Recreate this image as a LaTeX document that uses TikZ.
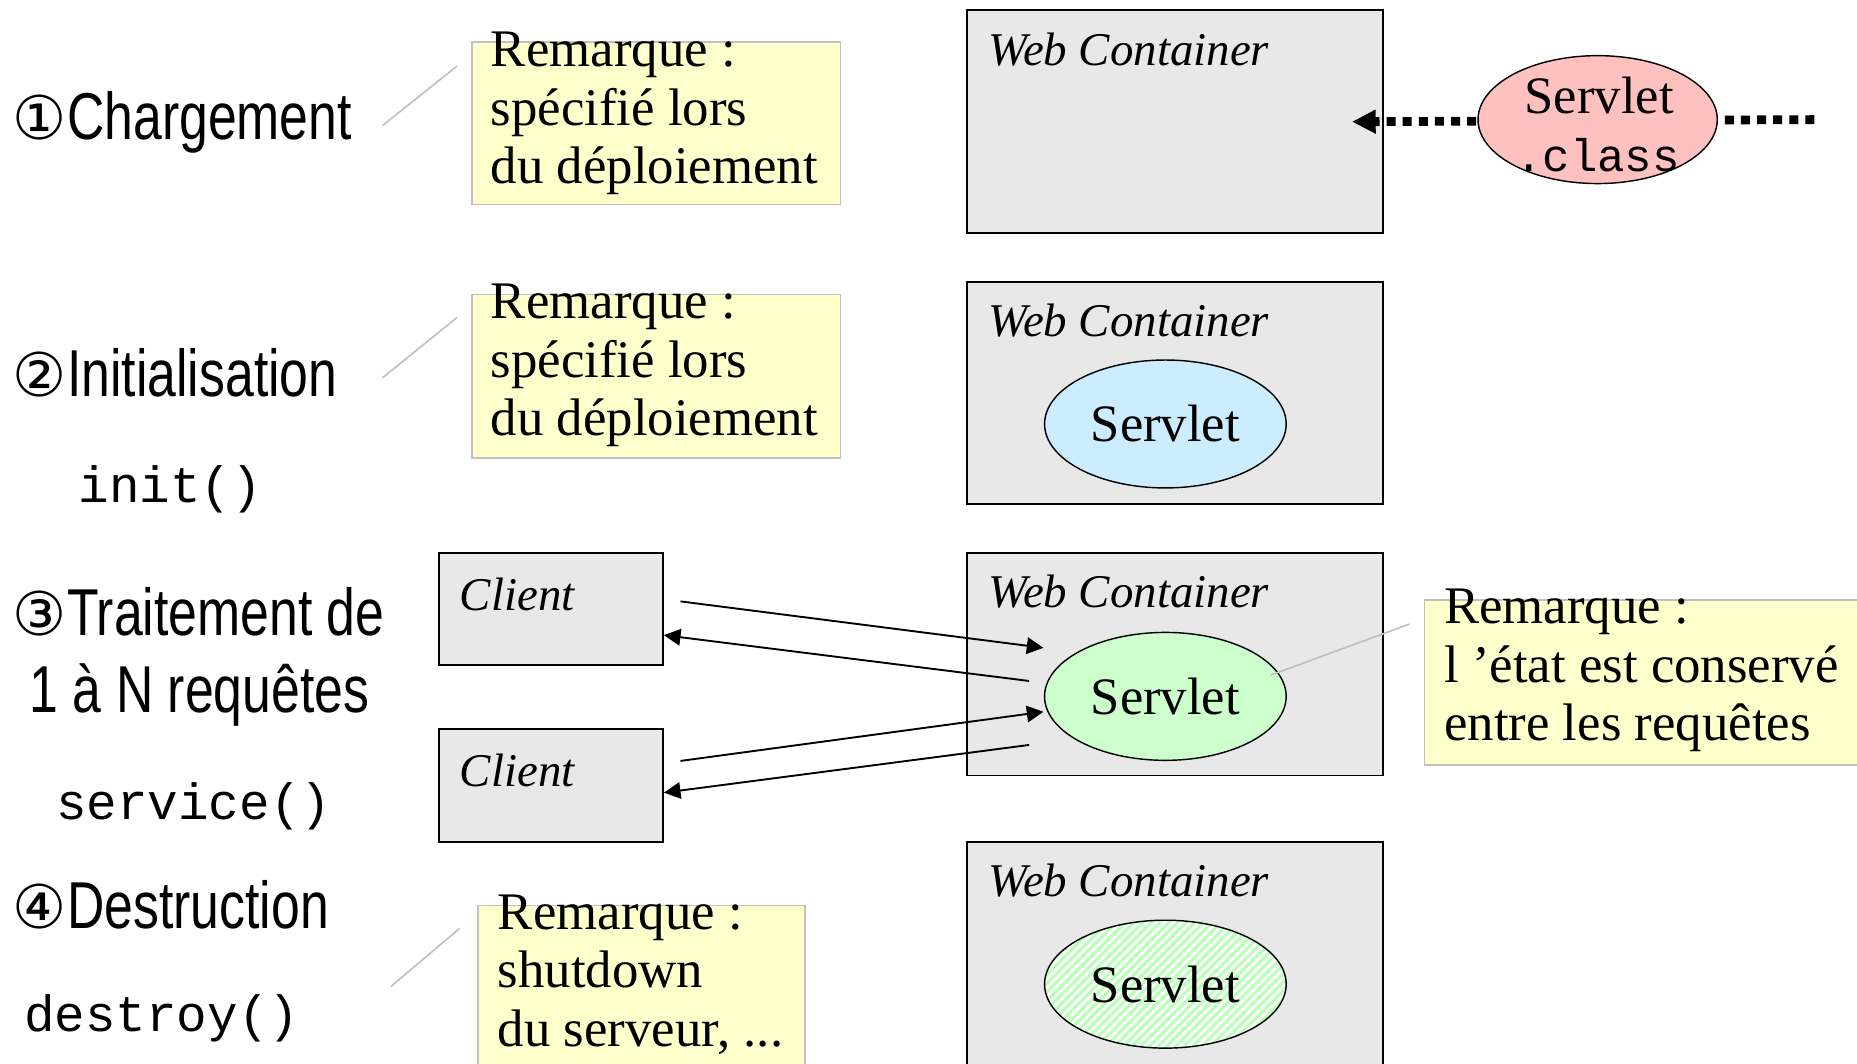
\documentclass[tikz,border=0pt]{standalone}
\usepackage{fontspec}
\setmainfont{Liberation Serif}
\setmonofont{Liberation Mono}
\newfontfamily\narrowsans[FakeStretch=0.78]{Liberation Sans}
\newfontfamily\circfont{DejaVu Sans}
\usetikzlibrary{shapes.geometric,arrows.meta,patterns.meta}
\definecolor{boxgrey}{RGB}{232,232,232}
\definecolor{notefill}{RGB}{255,255,204}
\definecolor{noteline}{RGB}{192,192,192}
\definecolor{loadpink}{RGB}{255,192,192}
\definecolor{initblue}{RGB}{204,236,255}
\definecolor{rungreen}{RGB}{204,255,204}
\newcommand{\stepmark}[1]{\hspace{-1pt}{\circfont\fontsize{25.5pt}{25.5pt}\selectfont#1}\hspace{0.3pt}}
\begin{document}
\begin{tikzpicture}[x=0.5pt,y=-0.5pt]
    \tikzstyle{every node}+=[inner sep=0pt]
    \tikzstyle{phase}=[anchor=base west,font=\narrowsans\fontsize{28pt}{32pt}\selectfont]
    \tikzstyle{method}=[anchor=base west,font=\ttfamily\fontsize{21.5pt}{24pt}\selectfont]
    \tikzstyle{remark}=[draw=noteline,line width=0.7pt,fill=notefill,anchor=north west]
    \tikzstyle{remtext}=[anchor=north west,align=left,font=\fontsize{22.3pt}{24.75pt}\selectfont]
    \tikzstyle{container}=[draw,line width=0.8pt,fill=boxgrey,anchor=north west,minimum width=175.5pt,minimum height=94pt]
    \tikzstyle{boxtitle}=[anchor=base west,font=\itshape\fontsize{19.8pt}{22pt}\selectfont]
    \tikzstyle{client}=[draw,line width=0.8pt,fill=boxgrey,anchor=north west,minimum width=94.5pt,minimum height=47.5pt]
    \tikzstyle{servlet}=[ellipse,draw,line width=0.6pt,minimum width=102pt,minimum height=54pt,font=\fontsize{22.2pt}{24pt}\selectfont]
    \tikzstyle{callout}=[draw=noteline,line width=0.7pt]
    \tikzstyle{request}=[-{Triangle[length=7pt,width=7pt]},line width=0.8pt]
    \useasboundingbox (0,0) rectangle (1568,898);
    \clip (0,0) rectangle (1568,898);

    \node[phase] (load) at (12,118) {\stepmark{①}Chargement};
    \node[phase] (init) at (12,335) {\stepmark{②}Initialisation};
    \node[phase] (serve) at (12,537) {\stepmark{③}Traitement de};
    \node[phase,anchor=base] (serveb) at ([yshift=-32.5pt]serve.base) {1 à N requêtes};
    \node[phase] (stop) at (12,784) {\stepmark{④}Destruction};
    \node[method] (initm) at (66,424) {init()};
    \node[method] (servem) at (47,692) {service()};
    \node[method] (stopm) at (20,871) {destroy()};

    \node[remark,minimum width=155.5pt,minimum height=68.5pt] (note1) at (398,35) {};
    \node[remark,minimum width=155.5pt,minimum height=69pt] (note2) at (398,248) {};
    \node[remark,minimum width=199pt,minimum height=69.5pt] (note3) at (1202,506) {};
    \node[remark,minimum width=138pt,minimum height=73pt] (note4) at (403,764) {};
    \node[remtext] (rem1) at (414,26.7) {Remarque :\\spécifié lors\\du déploiement};
    \node[remtext] (rem2) at (414,239.5) {Remarque :\\spécifié lors\\du déploiement};
    \node[remtext] (rem3) at (1219,497) {Remarque :\\l ’état est conservé\\entre les requêtes};
    \node[remtext] (rem4) at (420,755) {Remarque :\\shutdown\\du serveur, ...};

    \node[container] (wc1) at (816,8) {};
    \node[container] (wc2) at (816,237) {};
    \node[container] (wc3) at (816,466) {};
    \node[container,minimum height=100pt] (wc4) at (816,710) {};
    \node[boxtitle] (wct1) at (834,55) {Web Container};
    \node[boxtitle] (wct2) at (834,284) {Web Container};
    \node[boxtitle] (wct3) at (834,513) {Web Container};
    \node[boxtitle] (wct4) at (834,757) {Web Container};

    \node[client] (cl1) at (370,466) {};
    \node[client] (cl2) at (370,615) {};
    \node[boxtitle] (clt1) at (388,515.5) {Client};
    \node[boxtitle] (clt2) at (388,664) {Client};

    \coordinate (feed) at (1532,101);
    \draw[line width=3.7pt,dash pattern=on 3.8pt off 3pt,-{Triangle[length=10pt,width=9.5pt]}] (feed) -- ([xshift=-13.5pt]wc1.east);
    \node[servlet,fill=loadpink,minimum width=101pt] (cls) at (1349,101) {};
    \node[anchor=base west,font=\fontsize{22.2pt}{24pt}\selectfont] (clsname) at (1287,95.5) {Servlet};
    \node[anchor=base west,font=\ttfamily\fontsize{19.3pt}{20pt}\selectfont] (clsext) at (1279,145) {.class};

    \node[servlet,fill=initblue] (sv2) at (984,358) {Servlet};
    \node[servlet,fill=rungreen] (sv3) at (984,588) {Servlet};
    \node[servlet,preaction={fill=white},pattern={Lines[angle=45,distance=2.6pt,line width=1.3pt]},pattern color=rungreen!90!green] (sv4) at (984,831) {Servlet};

    \draw[request] ([xshift=7pt,yshift=3.25pt]cl1.east) -- ([xshift=-51.5pt,yshift=20.5pt]sv3.center);
    \draw[request] ([xshift=-57.5pt,yshift=6.5pt]sv3.center) -- ([yshift=-11pt]cl1.east);
    \draw[request] ([xshift=7pt,yshift=10.4pt]cl2.east) -- ([xshift=-51.5pt,yshift=-6.5pt]sv3.center);
    \draw[request] ([xshift=-57.5pt,yshift=-20.5pt]sv3.center) -- ([yshift=-3pt]cl2.east);

    \draw[callout] ([xshift=-37.5pt,yshift=-35.5pt]note1.north west) -- ([xshift=-6pt,yshift=-10.35pt]note1.north west);
    \draw[callout] ([xshift=-37.5pt,yshift=-35.5pt]note2.north west) -- ([xshift=-6pt,yshift=-10pt]note2.north west);
    \draw[callout] ([xshift=44.5pt,yshift=9pt]sv3.center) -- ([xshift=-6pt,yshift=-10.5pt]note3.north west);
    \draw[callout] ([xshift=-36.5pt,yshift=-34.5pt]note4.north west) -- ([xshift=-7.5pt,yshift=-10pt]note4.north west);
\end{tikzpicture}
\end{document}
